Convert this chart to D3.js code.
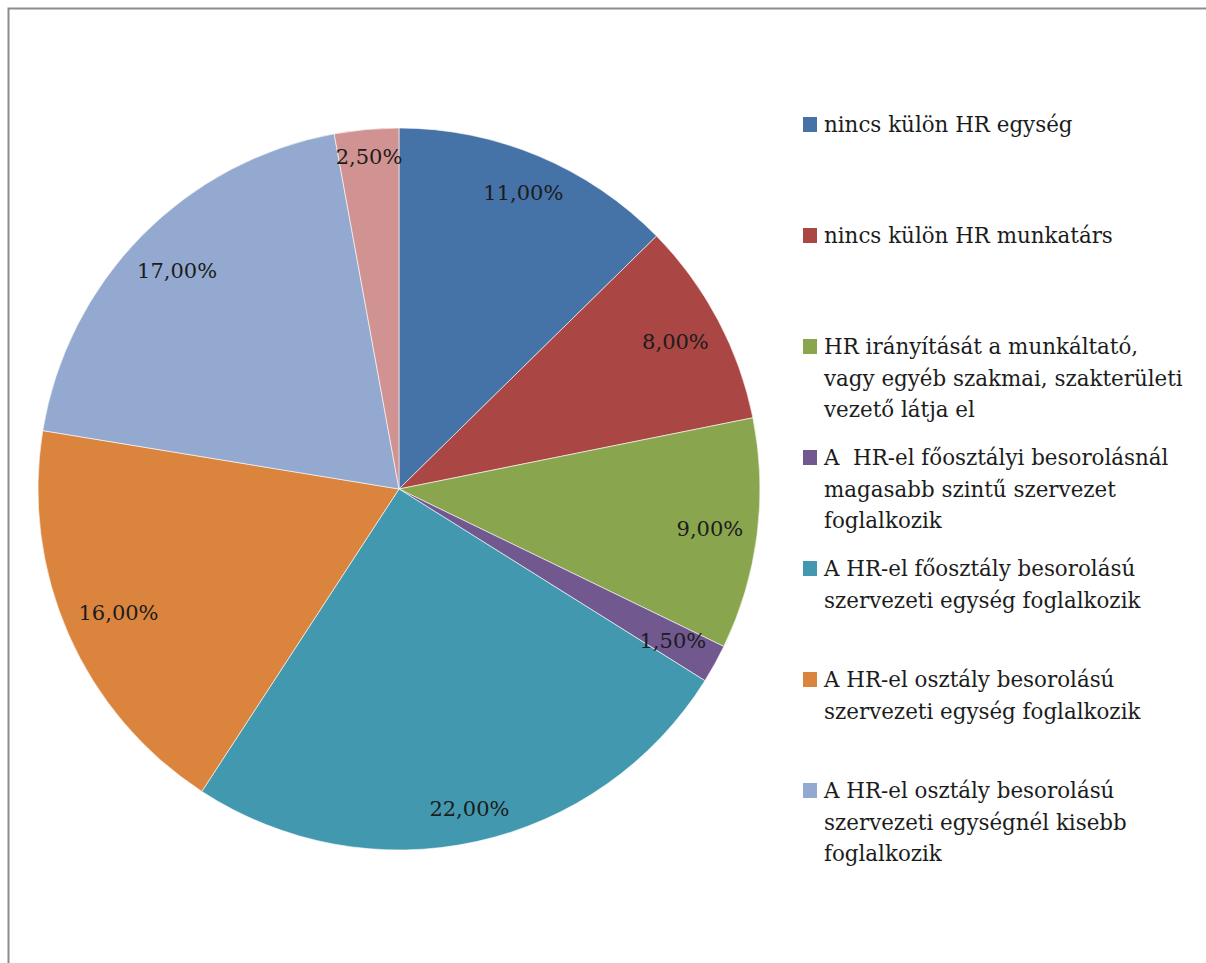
<!DOCTYPE html>
<html><head><meta charset="utf-8">
<script src="https://cdn.jsdelivr.net/npm/d3@7"></script>
<style>body{margin:0;background:#fff}svg{display:block}</style>
</head><body>
<script>
const categories = [
  "nincs külön HR egység",
  "nincs külön HR munkatárs",
  "HR irányítását a munkáltató,\nvagy egyéb szakmai, szakterületi\nvezető látja el",
  "A  HR-el főosztályi besorolásnál\nmagasabb szintű szervezet\nfoglalkozik",
  "A HR-el főosztály besorolású\nszervezeti egység foglalkozik",
  "A HR-el osztály besorolású\nszervezeti egység foglalkozik",
  "A HR-el osztály besorolású\nszervezeti egységnél kisebb\nfoglalkozik",
  ""
];
const values = [11, 8, 9, 1.5, 22, 16, 17, 2.5];
const valueLabels = ["11,00%","8,00%","9,00%","1,50%","22,00%","16,00%","17,00%","2,50%"];
const colors = ["#4572A7","#AA4643","#89A54E","#71588F","#4198AF","#DB843D","#93A9CF","#D19392"];

const W = 1206, H = 963;
const svg = d3.select("body").append("svg").attr("width", W).attr("height", H);
const font = "'DejaVu Serif', serif";

// frame
svg.append("rect").attr("x", 8.5).attr("y", 8.5).attr("width", W + 20).attr("height", H + 20)
  .attr("fill", "none").attr("stroke", "#8c8c8c").attr("stroke-width", 2);

const cx = 399, cy = 489, R = 361;
const pie = d3.pie().sort(null).value(d => d);
const arcs = pie(values);
const arc = d3.arc().innerRadius(0).outerRadius(R);
const g = svg.append("g").attr("transform", `translate(${cx},${cy})`);
g.selectAll("path").data(arcs).join("path")
  .attr("d", arc).attr("fill", (d, i) => colors[i])
  .attr("stroke", "#fff").attr("stroke-width", 0.6);

// labels - inside end
const pad = 13;
arcs.forEach((d, i) => {
  const t = g.append("text").text(valueLabels[i])
    .attr("font-family", font).attr("font-size", 21).attr("fill", "#1c1c1c")
    .attr("text-anchor", "middle").attr("dominant-baseline", "central");
  const bb = t.node().getBBox();
  const a = (d.startAngle + d.endAngle) / 2;
  const s = Math.sin(a), c = Math.cos(a);
  const ext = Math.abs(s) * bb.width / 2 + Math.abs(c) * bb.height / 2;
  const r = R - pad - ext;
  t.attr("x", r * s).attr("y", -r * c);
});

// legend
const lg = svg.append("g");
const lx = 803, ly0 = 125, step = 111, lh = 31.5;
categories.forEach((cat, i) => {
  if (!cat) return;
  const y = ly0 + i * step;
  lg.append("rect").attr("x", lx).attr("y", y - 8).attr("width", 14).attr("height", 15).attr("fill", colors[i]);
  const t = lg.append("text").attr("font-family", font).attr("font-size", 21.4).attr("fill", "#1c1c1c")
    .attr("x", lx + 21).attr("y", y + 7);
  cat.split("\n").forEach((line, j) => {
    t.append("tspan").attr("x", lx + 21).attr("dy", j === 0 ? 0 : lh).text(line).attr("xml:space","preserve");
  });
});
</script>
</body></html>
